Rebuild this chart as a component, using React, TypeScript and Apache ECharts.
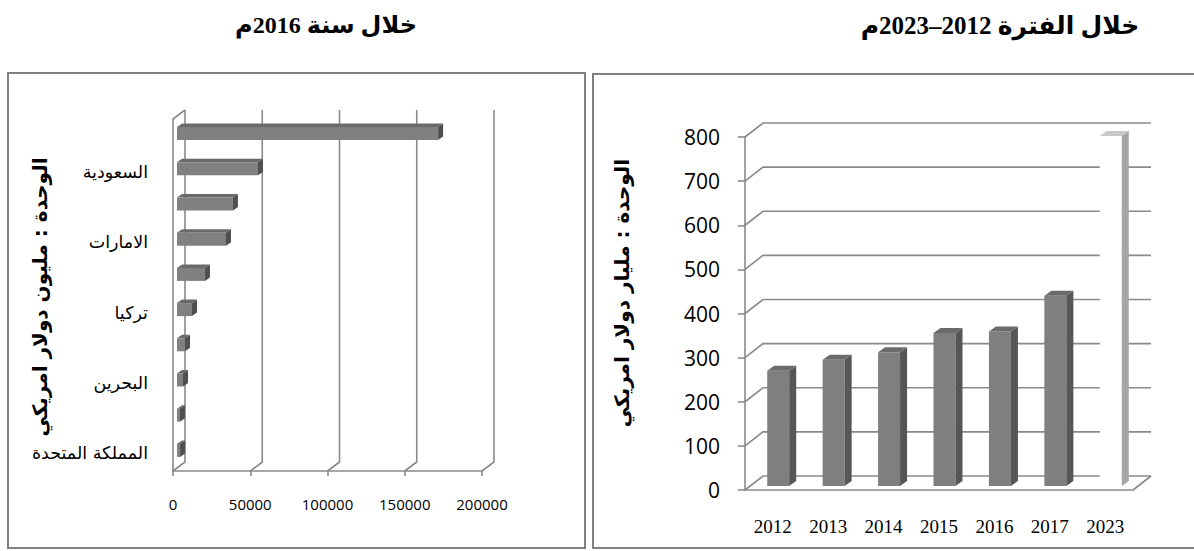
import { useEffect, useRef } from 'react';
import * as echarts from 'echarts';

// Investments by country during 2016 (million USD), listed top to bottom
const countries = ['', 'السعودية', '', 'الامارات', '', 'تركيا', '', 'البحرين', '', 'المملكة المتحدة'];
const investment2016 = [169000, 52400, 36200, 31700, 18100, 9700, 5200, 3900, 1900, 2000];
const countryTicks = [0, 50000, 100000, 150000, 200000];

// Yearly totals 2012-2023 (billion USD)
const years = ['2012', '2013', '2014', '2015', '2016', '2017', '2023'];
const yearlyTotals = [261, 286, 303, 347, 350, 431, 793];
const targetYear = '2023';
const totalTicks = [0, 100, 200, 300, 400, 500, 600, 700, 800];

const LINE = '#8a8a8a';
const SANS = '"Open Sans", "DejaVu Sans", sans-serif';
const SERIF = '"Liberation Serif", "DejaVu Sans", serif';
const ARABIC = '"DejaVu Sans", sans-serif';

const lineStyle = { stroke: LINE, lineWidth: 1.6, fill: 'none' };

// back wall of the horizontal chart: a vertical gridline per tick, joined to the front floor
function countryWall(params: any, api: any) {
  const cs = params.coordSys;
  const v = api.value(0);
  const x = api.coord([v, 0])[0];
  const top = cs.y;
  const bottom = cs.y + cs.height;
  const dx = 12;
  const dy = -9;
  const children: any[] = [
    {
      type: 'polyline',
      shape: { points: [[x, bottom], [x + dx, bottom + dy], [x + dx, top + dy]] },
      style: lineStyle,
    },
  ];
  if (v === 0) {
    children.push({ type: 'line', shape: { x1: x, y1: top, x2: x + dx, y2: top + dy }, style: lineStyle });
  }
  return { type: 'group', children };
}

// horizontal 3D bar: front face, top face and end face
function countryBar(params: any, api: any) {
  const v = api.value(0);
  const idx = api.value(1);
  const [xEnd, cy] = api.coord([v, idx]);
  const x0 = api.coord([0, idx])[0];
  const ox = 4;
  const oy = -3;
  const h = 13;
  const ddx = 5;
  const ddy = -3.5;
  const left = x0 + ox;
  const right = xEnd + ox;
  const top = cy + oy - h / 2;
  const bottom = top + h;
  return {
    type: 'group',
    children: [
      {
        type: 'polygon',
        shape: { points: [[left, top], [left + ddx, top + ddy], [right + ddx, top + ddy], [right, top]] },
        style: { fill: '#6a6a6a' },
      },
      { type: 'rect', shape: { x: left, y: top, width: right - left, height: h }, style: { fill: '#808080' } },
      {
        type: 'polygon',
        shape: { points: [[right, top], [right + ddx, top + ddy], [right + ddx, bottom + ddy], [right, bottom]] },
        style: { fill: '#4f4f4f' },
      },
    ],
  };
}

// back wall of the column chart: a horizontal gridline per tick, joined to the front axis
function totalWall(params: any, api: any) {
  const cs = params.coordSys;
  const v = api.value(1);
  const y = api.coord([0, v])[1];
  const left = cs.x;
  const right = cs.x + cs.width;
  const dx = 18;
  const dy = -14;
  const children: any[] = [
    {
      type: 'polyline',
      shape: { points: [[left, y], [left + dx, y + dy], [right + dx, y + dy]] },
      style: lineStyle,
    },
  ];
  if (v === 0) {
    children.push({ type: 'line', shape: { x1: right, y1: y, x2: right + dx, y2: y + dy }, style: lineStyle });
  }
  return { type: 'group', children };
}

// vertical 3D column: front face, side face and top face
function totalBar(params: any, api: any) {
  const idx = api.value(0);
  const v = api.value(1);
  const [cx, yTop] = api.coord([idx, v]);
  const yBase = api.coord([idx, 0])[1];
  const w = 22;
  const ox = 5.5;
  const oy = -4;
  const ddx = 7;
  const ddy = -5;
  const left = cx + ox - w / 2;
  const right = left + w;
  const top = yTop + oy;
  const bottom = yBase + oy;
  const target = years[idx] === targetYear;
  const front = target ? '#ffffff' : '#7f7f7f';
  const side = target ? '#a6a6a6' : '#565656';
  const cap = target ? '#c8c8c8' : '#6b6b6b';
  return {
    type: 'group',
    children: [
      { type: 'rect', shape: { x: left, y: top, width: w, height: bottom - top }, style: { fill: front } },
      {
        type: 'polygon',
        shape: { points: [[right, top], [right + ddx, top + ddy], [right + ddx, bottom + ddy], [right, bottom]] },
        style: { fill: side },
      },
      {
        type: 'polygon',
        shape: { points: [[left, top], [left + ddx, top + ddy], [right + ddx, top + ddy], [right, top]] },
        style: { fill: cap },
      },
    ],
  };
}

export default function App() {
  const ref = useRef<HTMLDivElement>(null);

  useEffect(() => {
    if (!ref.current) return;
    const chart = echarts.init(ref.current, null, { renderer: 'svg' });
    const axisLine = { show: true, lineStyle: { color: LINE, width: 1.6 } };

    chart.setOption({
      animation: false,
      backgroundColor: '#ffffff',
      grid: [
        { left: 173, top: 119, width: 309, height: 352 },
        { left: 745, top: 137, width: 388, height: 353 },
      ],
      xAxis: [
        {
          gridIndex: 0,
          type: 'value',
          min: 0,
          max: 200000,
          interval: 50000,
          axisLine,
          axisTick: { show: true, inside: false, length: 5, lineStyle: { color: LINE, width: 1.6 } },
          splitLine: { show: false },
          axisLabel: {
            color: '#000',
            fontSize: 15,
            fontFamily: SANS,
            margin: 25,
            formatter: (v: number) => String(v),
          },
        },
        {
          gridIndex: 1,
          type: 'category',
          data: years,
          axisLine,
          axisTick: { show: false },
          splitLine: { show: false },
          axisLabel: { color: '#000', fontSize: 19, fontFamily: SERIF, margin: 27 },
        },
      ],
      yAxis: [
        {
          gridIndex: 0,
          type: 'category',
          data: countries,
          inverse: true,
          axisLine,
          axisTick: { show: false },
          splitLine: { show: false },
          axisLabel: { color: '#000', fontSize: 17.5, fontFamily: ARABIC, margin: 25, interval: 0 },
        },
        {
          gridIndex: 1,
          type: 'value',
          min: 0,
          max: 800,
          interval: 100,
          axisLine,
          axisTick: { show: true, inside: false, length: 7, lineStyle: { color: LINE, width: 1.6 } },
          splitLine: { show: false },
          axisLabel: { color: '#000', fontSize: 21, fontFamily: SANS, margin: 25 },
        },
      ],
      series: [
        {
          type: 'custom',
          xAxisIndex: 0,
          yAxisIndex: 0,
          z: 1,
          renderItem: countryWall,
          data: countryTicks.map((t) => [t, 0]),
          encode: { x: 0, y: 1 },
          silent: true,
        },
        {
          type: 'custom',
          name: 'الاستثمارات 2016',
          xAxisIndex: 0,
          yAxisIndex: 0,
          z: 2,
          renderItem: countryBar,
          data: investment2016.map((v, i) => [v, i]),
          encode: { x: 0, y: 1 },
        },
        {
          type: 'custom',
          xAxisIndex: 1,
          yAxisIndex: 1,
          z: 1,
          renderItem: totalWall,
          data: totalTicks.map((t) => [0, t]),
          encode: { x: 0, y: 1 },
          silent: true,
        },
        {
          type: 'custom',
          name: 'الإجمالي',
          xAxisIndex: 1,
          yAxisIndex: 1,
          z: 2,
          renderItem: totalBar,
          data: yearlyTotals.map((v, i) => [i, v]),
          encode: { x: 0, y: 1 },
        },
      ],
      graphic: [
        {
          type: 'rect',
          shape: { x: 8, y: 73, width: 577, height: 475 },
          style: { fill: 'none', stroke: '#808080', lineWidth: 2 },
          silent: true,
        },
        {
          type: 'rect',
          shape: { x: 593, y: 74, width: 640, height: 474 },
          style: { fill: 'none', stroke: '#808080', lineWidth: 2 },
          silent: true,
        },
        {
          type: 'text',
          x: 326,
          y: 25,
          style: {
            text: 'خلال سنة 2016م',
            font: `bold 24px ${SERIF}`,
            fill: '#000',
            align: 'center',
            verticalAlign: 'middle',
          },
        },
        {
          type: 'text',
          x: 1000,
          y: 25,
          style: {
            text: 'خلال الفترة 2012–2023م',
            font: `bold 25px ${SERIF}`,
            fill: '#000',
            align: 'center',
            verticalAlign: 'middle',
          },
        },
        {
          type: 'text',
          x: 40,
          y: 297,
          rotation: Math.PI / 2,
          style: {
            text: 'الوحدة : مليون دولار امريكي',
            font: `bold 20px ${ARABIC}`,
            fill: '#000',
            align: 'center',
            verticalAlign: 'middle',
          },
        },
        {
          type: 'text',
          x: 622,
          y: 293,
          rotation: Math.PI / 2,
          style: {
            text: 'الوحدة : مليار دولار امريكي',
            font: `bold 20px ${ARABIC}`,
            fill: '#000',
            align: 'center',
            verticalAlign: 'middle',
          },
        },
      ],
    });

    return () => chart.dispose();
  }, []);

  return <div ref={ref} style={{ position: 'absolute', left: 0, top: 0, width: 1194, height: 551 }} />;
}
